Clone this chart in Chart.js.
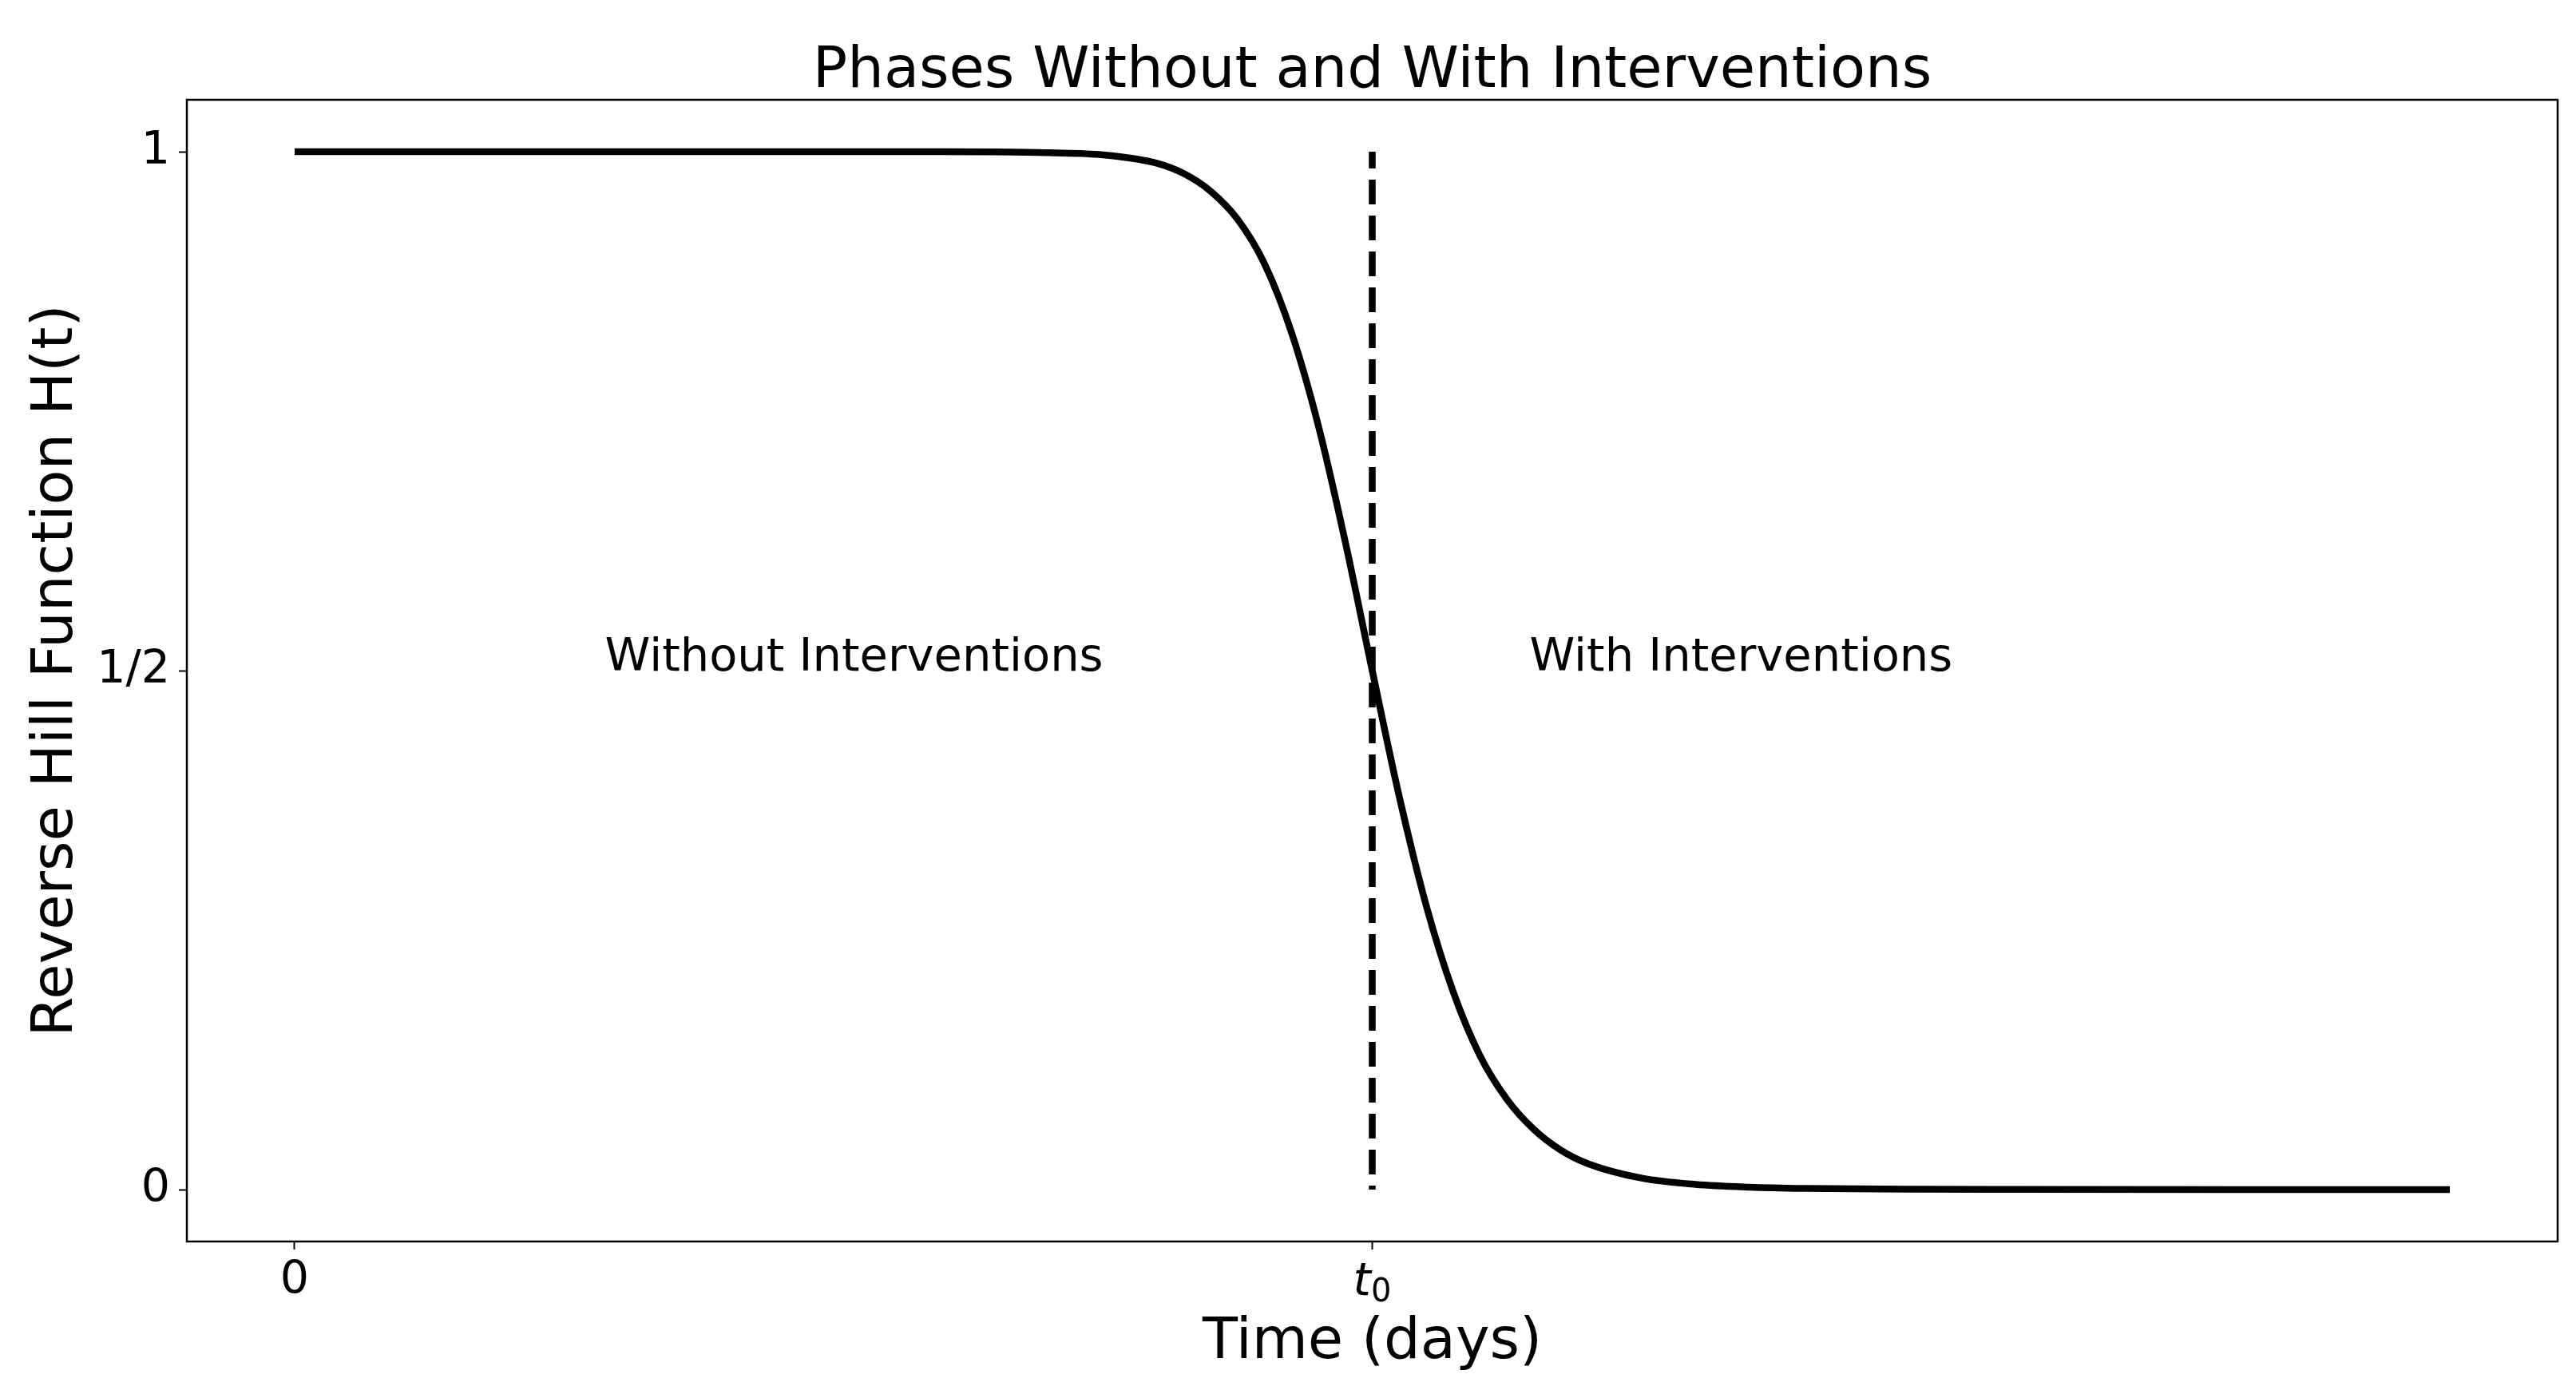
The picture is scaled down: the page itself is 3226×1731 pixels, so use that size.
<!DOCTYPE html>
<html>
<head>
<meta charset="utf-8">
<script src="https://cdn.jsdelivr.net/npm/chart.js@4.4.1/dist/chart.umd.min.js"></script>
<style>
  html, body { margin: 0; padding: 0; background: #fff; }
  #wrap { width: 3226px; height: 1731px; }
</style>
</head>
<body>
<div id="wrap"><canvas id="hillChart" width="3226" height="1731"></canvas></div>
<script>
// time in units of t0
const timeValues = [0, 0.1, 0.2, 0.3, 0.4, 0.5, 0.6, 0.65, 0.7, 0.75, 0.8, 0.825, 0.85, 0.875, 0.9, 0.925, 0.95, 0.975,
  1.0, 1.025, 1.05, 1.075, 1.1, 1.125, 1.15, 1.175, 1.2, 1.25, 1.3, 1.35, 1.4, 1.5, 1.6, 1.8, 2.0];
const hillValues = [1, 1, 1, 1, 1, 1, 1, 0.9998, 0.999, 0.997, 0.989, 0.979, 0.962, 0.935, 0.892, 0.826, 0.736, 0.624,
  0.5, 0.379, 0.274, 0.191, 0.129, 0.087, 0.058, 0.038, 0.025, 0.011, 0.005, 0.0024, 0.0012, 0.0003, 0.0001, 0, 0];

// dashed marker at t0
const markerTimes = [1, 1];
const markerValues = [1, 0];

const xTickValues = [0, 1];
const xTickLabels = ['0', 't0'];
const yTickValues = [0, 0.5, 1];
const yTickLabels = ['0', '1/2', '1'];

const phaseLabels = ['Without Interventions', 'With Interventions'];
const phaseTimes = [0.288, 1.146];
const phaseLevel = 0.5;

const FONT = '"DejaVu Sans", "Liberation Sans", sans-serif';

const frameAndText = {
  id: 'frameAndText',
  afterDraw(chart) {
    const { ctx, chartArea: a, scales: { x, y } } = chart;
    ctx.save();
    ctx.strokeStyle = '#000';
    ctx.lineWidth = 2.5;
    ctx.strokeRect(a.left, a.top, a.right - a.left, a.bottom - a.top);

    ctx.fillStyle = '#000';
    ctx.textBaseline = 'alphabetic';
    ctx.textAlign = 'center';
    ctx.font = '72px ' + FONT;
    ctx.fillText('Phases Without and With Interventions', (a.left + a.right) / 2, 109);

    ctx.textAlign = 'left';
    ctx.font = '57.5px ' + FONT;
    phaseLabels.forEach((t, i) => {
      ctx.fillText(t, x.getPixelForValue(phaseTimes[i]), y.getPixelForValue(phaseLevel));
    });

    // t0 tick label: italic t with subscript 0
    const px = x.getPixelForValue(xTickValues[1]);
    ctx.font = 'italic 57px ' + FONT;
    const tw = ctx.measureText('t').width;
    ctx.font = '40px ' + FONT;
    const sw = ctx.measureText('0').width;
    const start = px - (tw + sw) / 2;
    ctx.font = 'italic 57px ' + FONT;
    ctx.fillText('t', start, 1622);
    ctx.font = '40px ' + FONT;
    ctx.fillText('0', start + tw, 1630);
    ctx.restore();
  }
};

new Chart(document.getElementById('hillChart'), {
  type: 'line',
  data: {
    datasets: [
      {
        data: timeValues.map((t, i) => ({ x: t, y: hillValues[i] })),
        borderColor: '#000',
        borderWidth: 8.5,
        borderCapStyle: 'butt',
        pointRadius: 0,
        cubicInterpolationMode: 'monotone',
        fill: false
      },
      {
        data: markerTimes.map((t, i) => ({ x: t, y: markerValues[i] })),
        borderColor: '#000',
        borderWidth: 8.5,
        borderDash: [31, 14],
        borderDashOffset: 10,
        borderCapStyle: 'butt',
        pointRadius: 0,
        fill: false
      }
    ]
  },
  options: {
    responsive: false,
    devicePixelRatio: 1,
    animation: false,
    layout: { padding: { top: 125, right: 23, left: 0, bottom: 0 } },
    plugins: {
      legend: { display: false },
      tooltip: { enabled: false },
      title: { display: false }
    },
    scales: {
      x: {
        type: 'linear',
        min: -0.1,
        max: 2.1,
        afterBuildTicks: (axis) => { axis.ticks = xTickValues.map(v => ({ value: v })); },
        afterFit: (axis) => { axis.height = 176; },
        ticks: {
          autoSkip: false,
          maxRotation: 0,
          padding: 6,
          color: '#000',
          font: { family: FONT, size: 57, lineHeight: 1.2 },
          callback: (value, index) => (xTickLabels[index] === 't0' ? '' : xTickLabels[index])
        },
        grid: { drawOnChartArea: false, drawTicks: true, tickLength: 10, tickWidth: 2, tickColor: '#000' },
        border: { display: false },
        title: {
          display: true,
          text: 'Time (days)',
          color: '#000',
          font: { family: FONT, size: 72, lineHeight: 1.2 },
          padding: { top: 0, bottom: 6 }
        }
      },
      y: {
        type: 'linear',
        min: -0.05,
        max: 1.05,
        afterBuildTicks: (axis) => { axis.ticks = yTickValues.map(v => ({ value: v })); },
        afterFit: (axis) => { axis.width = 234; },
        ticks: {
          autoSkip: false,
          padding: 11,
          color: '#000',
          font: { family: FONT, size: 57, lineHeight: 1.2 },
          callback: (value, index) => yTickLabels[index]
        },
        grid: { drawOnChartArea: false, drawTicks: true, tickLength: 10, tickWidth: 2, tickColor: '#000' },
        border: { display: false },
        title: {
          display: true,
          text: 'Reverse Hill Function H(t)',
          color: '#000',
          font: { family: FONT, size: 72, lineHeight: 1.2 },
          padding: { top: 28, bottom: 0 }
        }
      }
    }
  },
  plugins: [frameAndText]
});
</script>
</body>
</html>
